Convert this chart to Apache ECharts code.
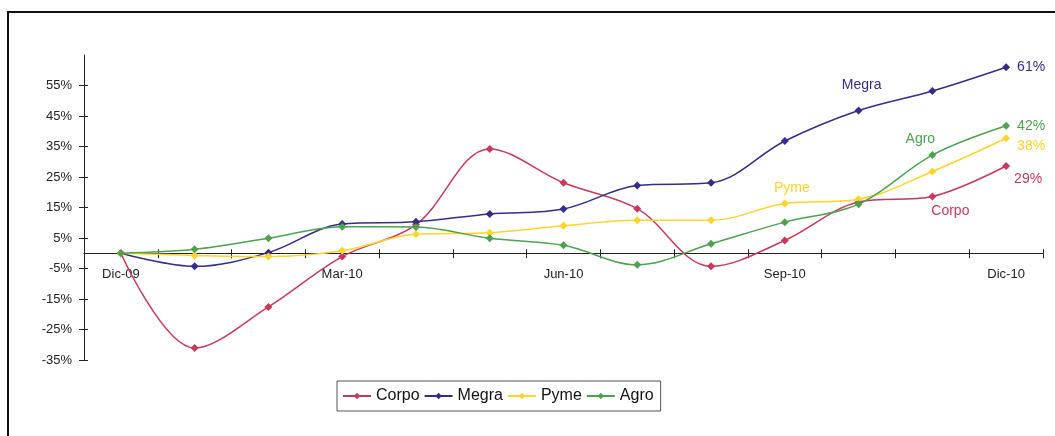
<!DOCTYPE html>
<html>
<head>
<meta charset="utf-8">
<script src="https://cdn.jsdelivr.net/npm/echarts@6/dist/echarts.min.js"></script>
<style>
  html, body { margin: 0; padding: 0; background: #fff; }
  #chart { width: 1055px; height: 436px; }
</style>
</head>
<body>
<div id="chart"></div>
<script>
// meses
var months = ['Dic-09', 'Ene-10', 'Feb-10', 'Mar-10', 'Abr-10', 'May-10', 'Jun-10',
              'Jul-10', 'Ago-10', 'Sep-10', 'Oct-10', 'Nov-10', 'Dic-10'];

// variacion acumulada (%)
var corpo = [0, -31.1, -17.6, -1.1, 9.4, 34.2, 23.1, 14.6, -4.3, 4.2, 16.8, 18.6, 28.6];
var megra = [0, -4.3, 0.2, 9.6, 10.3, 12.9, 14.5, 22.2, 23.1, 36.8, 46.8, 53.2, 61.0];
var pyme  = [0, -0.7, -1.1, 0.8, 6.2, 6.7, 9.0, 10.8, 10.8, 16.3, 17.7, 26.8, 37.7];
var agro  = [0, 1.3, 4.9, 8.7, 8.6, 4.9, 2.6, -3.8, 3.1, 10.2, 16.1, 32.2, 41.8];

var yTicks = [-35, -25, -15, -5, 5, 15, 25, 35, 45, 55];

var fontName = 'Liberation Sans';
var gridTop = 55;
var gridBottom = 76;
var chartH = 436;

// arma la serie con etiqueta del nombre y del valor final
function fnSerie(name, values, color, nameIdx, nameOffset, endOffset) {
    var data = [];
    for (var i = 0; i < values.length; i++) {
        var item = { value: values[i] };
        if (i == nameIdx) {
            item.label = {
                show: true, position: 'inside', offset: nameOffset,
                formatter: name, color: color, fontSize: 14, fontFamily: fontName
            };
        }
        if (i == values.length - 1) {
            item.label = {
                show: true, position: 'inside', offset: endOffset,
                formatter: function (p) { return Math.round(p.value) + '%'; },
                color: color, fontSize: 14, fontFamily: fontName
            };
        }
        data.push(item);
    }
    return {
        name: name,
        type: 'line',
        smooth: 0.35,
        symbol: 'diamond',
        symbolSize: 8,
        showAllSymbol: true,
        lineStyle: { color: color, width: 1.5 },
        itemStyle: { color: color },
        emphasis: { disabled: true },
        data: data
    };
}

var myChart = echarts.init(document.getElementById('chart'));

var axisColor = '#222';

var option = {
    animation: false,
    backgroundColor: '#fff',
    textStyle: { fontFamily: fontName },
    graphic: [{
        type: 'rect',
        shape: { x: 8, y: 12, width: 1100, height: 500 },
        style: { fill: 'none', stroke: '#111', lineWidth: 2 },
        silent: true
    }],
    grid: { left: 84, right: 12, top: gridTop, bottom: gridBottom },
    legend: {
        left: 337,
        top: 381,
        width: 500,
        padding: [7, 7, 7, 5],
        borderColor: '#555',
        borderWidth: 1,
        itemWidth: 28,
        itemHeight: 8,
        itemGap: 4,
        textStyle: { fontSize: 16, color: '#111', fontFamily: fontName },
        data: ['Corpo', 'Megra', 'Pyme', 'Agro']
    },
    xAxis: [{
        type: 'category',
        position: 'bottom',
        data: months,
        boundaryGap: true,
        axisLine: { onZero: false, lineStyle: { color: axisColor, width: 1 } },
        axisTick: { show: true, interval: 0, length: 5, lineStyle: { color: axisColor } },
        axisLabel: { interval: 2, margin: 15, fontSize: 13, color: '#222', fontFamily: fontName },
        splitLine: { show: false }
    }, {
        // solo las marcas hacia arriba
        type: 'category',
        position: 'top',
        data: months,
        boundaryGap: true,
        axisLine: { show: false, onZero: false },
        axisTick: { show: true, interval: 0, length: 4, lineStyle: { color: axisColor } },
        axisLabel: { show: false },
        splitLine: { show: false }
    }],
    yAxis: [{
        type: 'value',
        min: -35,
        max: 65,
        interval: 10,
        axisLine: { show: true, lineStyle: { color: axisColor, width: 1 } },
        axisTick: { show: true, length: 5, customValues: yTicks, lineStyle: { color: axisColor } },
        axisLabel: {
            customValues: yTicks, margin: 12, fontSize: 13, color: '#222', fontFamily: fontName,
            formatter: function (v) { return v + '%'; }
        },
        splitLine: { show: false }
    }, {
        type: 'value',
        min: -35,
        max: 65,
        interval: 10,
        position: 'left',
        axisLine: { show: false },
        axisTick: { show: true, inside: true, length: 4, customValues: yTicks, lineStyle: { color: axisColor } },
        axisLabel: { show: false },
        splitLine: { show: false }
    }],
    series: [
        fnSerie('Corpo', corpo, '#C8385C', 11, [18, 15], [22, 13]),
        fnSerie('Megra', megra, '#332D88', 10, [3, -25], [25, 0]),
        fnSerie('Pyme', pyme, '#FFD42A', 9, [7, -15], [25, 8]),
        fnSerie('Agro', agro, '#4CA24E', 11, [-12, -16], [25, 0])
    ]
};
myChart.setOption(option);

// eje x sobre el cero
var zeroY = myChart.convertToPixel({ yAxisIndex: 0 }, 0);
myChart.setOption({
    xAxis: [
        { offset: -((chartH - gridBottom) - zeroY) },
        { offset: -(zeroY - gridTop) }
    ]
});
</script>
</body>
</html>
